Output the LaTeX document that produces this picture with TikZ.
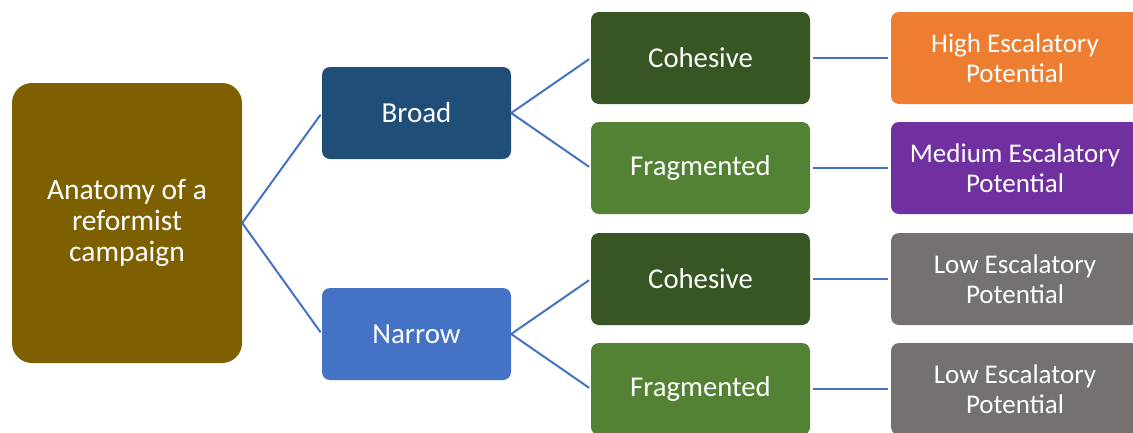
\documentclass[tikz,border=0pt]{standalone}
\usepackage{fontspec}
\setmainfont{Carlito}
\definecolor{rootc}{HTML}{7F6000}
\definecolor{broadc}{HTML}{1F4E79}
\definecolor{narrowc}{HTML}{4472C4}
\definecolor{cohc}{HTML}{375623}
\definecolor{fragc}{HTML}{548235}
\definecolor{highc}{HTML}{ED7D31}
\definecolor{medc}{HTML}{7030A0}
\definecolor{lowc}{HTML}{767171}
\definecolor{linec}{HTML}{4472C4}
\begin{document}
\begin{tikzpicture}[x=1pt,y=-1pt,
  box/.style={rectangle, rounded corners=8pt, inner sep=0pt, text=white, align=center, draw=none},
  midbox/.style={box, minimum width=189pt, minimum height=92pt, font=\fontsize{29}{31}\selectfont},
  catbox/.style={box, minimum width=219pt, minimum height=92pt, font=\fontsize{28.7}{31}\selectfont},
  outbox/.style={box, minimum width=248pt, minimum height=92pt, font=\fontsize{27}{30}\selectfont},
  link/.style={draw=linec, line width=2pt, shorten >=2pt}
]
\useasboundingbox (0,0) rectangle (1133,432);
\clip (0,0) rectangle (1133,432);
\node[box, rounded corners=20pt, minimum width=230pt, minimum height=280pt, fill=rootc, font=\fontsize{29.5}{31}\selectfont] (root) at (127,223) {Anatomy of a\\reformist\\campaign};
\node[midbox, fill=broadc] (broad) at (416.5,113) {Broad};
\node[midbox, fill=narrowc] (narrow) at (416.5,334) {Narrow};
\node[catbox, fill=cohc] (c1) at (700.5,58) {Cohesive};
\node[catbox, fill=fragc] (f1) at (700.5,168) {Fragmented};
\node[catbox, fill=cohc] (c2) at (700.5,279) {Cohesive};
\node[catbox, fill=fragc] (f2) at (700.5,389) {Fragmented};
\node[outbox, fill=highc] (o1) at (1015,58) {High Escalatory\\Potential};
\node[outbox, fill=medc] (o2) at (1015,168) {Medium Escalatory\\Potential};
\node[outbox, fill=lowc] (o3) at (1015,279) {Low Escalatory\\Potential};
\node[outbox, fill=lowc] (o4) at (1015,389) {Low Escalatory\\Potential};
\draw[link] (root.east) -- (broad.west);
\draw[link] (root.east) -- (narrow.west);
\draw[link] (broad.east) -- (c1.west);
\draw[link] (broad.east) -- (f1.west);
\draw[link] (narrow.east) -- (c2.west);
\draw[link] (narrow.east) -- (f2.west);
\draw[link, shorten <=3pt, shorten >=3pt] (c1.east) -- (o1.west);
\draw[link, shorten <=3pt, shorten >=3pt] (f1.east) -- (o2.west);
\draw[link, shorten <=3pt, shorten >=3pt] (c2.east) -- (o3.west);
\draw[link, shorten <=3pt, shorten >=3pt] (f2.east) -- (o4.west);
\end{tikzpicture}
\end{document}
